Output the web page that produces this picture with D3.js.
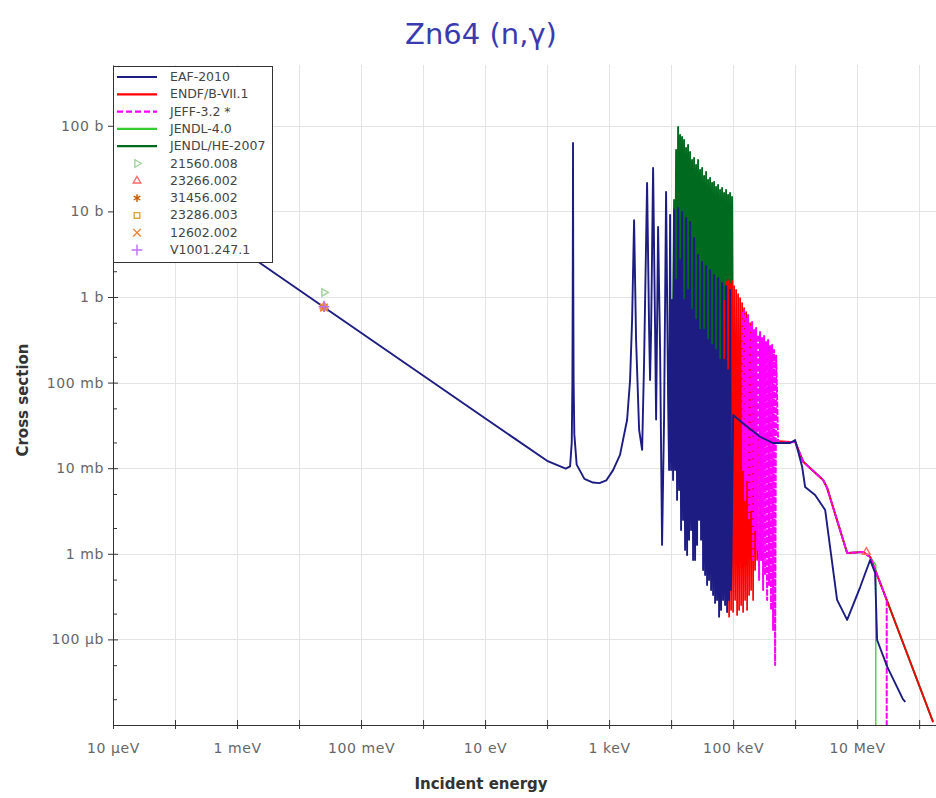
<!DOCTYPE html>
<html>
<head>
<meta charset="utf-8">
<script src="https://cdn.jsdelivr.net/npm/d3@7"></script>
<style>
  body { margin: 0; background: #fff; }
  svg { display: block; font-family: "DejaVu Sans", sans-serif; }
</style>
</head>
<body>
<svg id="chart"></svg>
<script>
// axis ranges (eV, barn)
const energyDomain = [1e-5, 1.87e8];
const xsDomain = [1e-5, 513];

const xTickValues = [1e-5, 1e-4, 1e-3, 1e-2, 1e-1, 1, 10, 100, 1e3, 1e4, 1e5, 1e6, 1e7, 1e8];
const xLabelValues = [1e-5, 1e-3, 1e-1, 10, 1e3, 1e5, 1e7];
const xLabelText = ["10 µeV", "1 meV", "100 meV", "10 eV", "1 keV", "100 keV", "10 MeV"];
const yDecades = [1e-5, 1e-4, 1e-3, 1e-2, 1e-1, 1, 10, 100];
const yLabelValues = [1e-4, 1e-3, 1e-2, 1e-1, 1, 10, 100];
const yLabelText = ["100 µb", "1 mb", "10 mb", "100 mb", "1 b", "10 b", "100 b"];

// evaluated cross sections, [energy eV, sigma b]
const eaf2010 = [
  [1e-5, 38.2], [1e-3, 3.82], [0.0253, 0.76], [1, 0.121], [10, 0.0383], [100, 0.0122],
  [200, 0.0099], [235, 0.0105], [250, 0.02], [256, 0.1], [259, 1], [261, 10], [262, 63],
  [263, 10], [265, 1], [268, 0.1], [275, 0.025], [300, 0.011], [400, 0.0075], [550, 0.0068],
  [700, 0.0067], [900, 0.0072], [1160, 0.0095], [1500, 0.0143], [1950, 0.0366], [2180, 0.107],
  [2350, 0.54], [2530, 7.9], [2725, 0.315], [3050, 0.028], [3410, 0.0164], [3670, 0.18],
  [3810, 0.92], [4100, 21.5], [4420, 0.41], [4580, 0.107], [4760, 0.41], [5125, 32.1],
  [5520, 0.41], [5730, 0.037], [6170, 6.56], [6645, 0.24], [7150, 0.00127], [7700, 0.037],
  [8300, 16.9], [8950, 0.063], [9285, 0.0095],
  [9636, 9.06], [10000, 0.00952], [10380, 0.923], [10770, 0.00727], [11180, 10.4],
  [11600, 0.00952], [12040, 1.58], [12490, 0.00426], [12970, 10.96], [13460, 0.00557],
  [13970, 2.71], [14490, 0.0019], [15040, 9.84], [15610, 0.00249], [16200, 0.923],
  [16810, 0.00111], [17450, 8.4], [18110, 0.000969], [18790, 1.21], [19500, 0.00146],
  [20240, 7.52], [21010, 0.0019], [21800, 0.705], [22630, 0.000846], [23480, 4.89],
  [24370, 0.000846], [25290, 0.539], [26250, 0.00127], [27240, 3.1], [28270, 0.00249],
  [29340, 0.412], [30450, 0.00146], [31620, 2.56], [32820, 0.000647], [34060, 0.412],
  [35350, 0.000565], [36680, 2.3], [38070, 0.000432], [39510, 0.315], [41000, 0.000494],
  [42550, 2.07], [44160, 0.000378], [45830, 0.275], [47560, 0.00033], [49360, 1.81],
  [51230, 0.000267], [53170, 0.24], [55180, 0.000289], [57260, 1.67], [59430, 0.000184],
  [61670, 0.184], [64000, 0.000221], [66420, 1.46], [68930, 0.000289], [71540, 0.184],
  [74240, 0.000252], [77050, 1.34], [79960, 0.000209], [82990, 0.14], [86130, 0.000289],
  [89380, 1.21], [92760, 0.000378],
  [1e5, 0.0418], [1.56e5, 0.032], [2.72e5, 0.0233], [4.41e5, 0.0197], [8.3e5, 0.0197],
  [1.0e6, 0.0213], [1.3e6, 0.0103], [1.45e6, 0.00603], [2.1e6, 0.00487], [3.05e6, 0.00325],
  [4.75e6, 0.000289], [6.9e6, 0.000169], [1.12e7, 0.000409], [1.62e7, 0.000846],
  [1.95e7, 0.000597], [2.1e7, 0.0000985], [3.05e7, 0.000048], [5.5e7, 0.0000199], [6e7, 0.0000186]
];

const endfb71 = [
  [71540, 0.923], [74240, 0.000494], [77050, 1.5], [79960, 0.000289], [82990, 1.58],
  [86130, 0.000184], [89380, 1.42], [92760, 0.000221], [96270, 1.54], [100000, 0.000209],
  [103800, 1.34], [107700, 0.000289], [111800, 1.21], [116000, 0.000193], [120400, 1.08],
  [124900, 0.000221], [129700, 0.973], [134600, 0.000252], [139700, 0.851], [144900, 0.000209],
  [150400, 0.744], [156100, 0.000289], [162000, 0.668], [168100, 0.000221], [174500, 0.568],
  [181100, 0.00033], [187900, 0.497], [195000, 0.000378], [202400, 0.412], [210100, 0.000289],
  [218000, 0.315], [226300, 0.000647], [234800, 0.21], [243700, 0.000846],
  [252900, 0.0233], [4.75e5, 0.0208], [8.3e5, 0.0203], [1.0e6, 0.0203], [1.35e6, 0.0119],
  [2.83e6, 0.00727], [3.28e6, 0.00589], [6.9e6, 0.00102], [1.25e7, 0.00105], [1.62e7, 0.00092],
  [3e7, 0.000289], [1.68e8, 1.08e-5]
];

const jeff32 = [
  [139660, 0.668], [144940, 0.00952], [150420, 0.705], [156110, 0.00426], [162010, 0.568],
  [168130, 0.00727], [174490, 0.616], [181090, 0.00249], [187930, 0.471], [195030, 0.00325],
  [202410, 0.511], [210060, 0.000846], [218010, 0.412], [226250, 0.0019], [234810, 0.434],
  [243690, 0.00111], [252900, 0.36], [262460, 0.000494], [272380, 0.39], [282670, 0.000846],
  [293370, 0.332], [304460, 0.000378], [316230, 0.35], [328180, 0.000565], [340590, 0.298],
  [353460, 0.000289], [366830, 0.315], [380700, 0.000432], [395090, 0.268], [410030, 0.000221],
  [425530, 0.275], [441620, 0.000129], [458310, 0.24], [475640, 0.0000502], [493620, 0.21],
  [531800, 0.0197], [1.0e6, 0.0203], [1.35e6, 0.0119], [2.83e6, 0.00727], [3.28e6, 0.00589],
  [6.9e6, 0.00102], [1.25e7, 0.00105], [1.62e7, 0.00092], [3e7, 0.000289], [3e7, 1e-7]
];

const jendl40 = [
  [1e5, 0.0418], [1.56e5, 0.032], [2.72e5, 0.0233], [4.41e5, 0.0197], [1.0e6, 0.0203],
  [1.35e6, 0.0119], [2.83e6, 0.00727], [3.28e6, 0.00589], [6.9e6, 0.00102], [1.25e7, 0.00105],
  [1.62e7, 0.00092], [2e7, 0.00074], [2e7, 1e-7]
];

const jendlhe2007 = [
  [10380, 0.0366], [11180, 13.6], [11600, 0.412], [12040, 52.1], [12490, 0.184], [12970, 96.8],
  [13460, 0.315], [13970, 78.1], [14490, 0.14], [15040, 74], [15610, 0.24], [16200, 68.3],
  [16810, 0.107], [17450, 55.0], [18110, 0.184], [18790, 59.7], [19500, 0.0819], [20240, 49.4],
  [21010, 0.14], [21800, 39.9], [22630, 0.0626], [23480, 42.1], [24370, 0.107], [25290, 34.9],
  [26250, 0.0626], [27240, 39.9], [28270, 0.0819], [29340, 30.5], [30450, 0.0478], [31620, 32.1],
  [32820, 0.0626], [34060, 25.9], [35350, 0.0478], [36680, 28.9], [38070, 0.0626], [39510, 23.3],
  [41000, 0.0366], [42550, 24.6], [44160, 0.0478], [45830, 21.5], [47560, 0.0366], [49360, 22.1],
  [51230, 0.0478], [53170, 19.3], [55180, 0.0366], [57260, 20.3], [59430, 0.0418], [61670, 17.8],
  [64000, 0.032], [66420, 18.8], [68930, 0.0366], [71540, 16.4], [74240, 0.0279], [77050, 17.8],
  [79960, 0.0366], [82990, 15.6], [86130, 0.0279], [89380, 16.4], [92760, 0.0366], [96270, 14.7],
  [1e5, 0.0418], [1.56e5, 0.032], [2.72e5, 0.0233], [4.41e5, 0.0197], [1.0e6, 0.0203],
  [1.35e6, 0.0119], [2.83e6, 0.00727], [3.28e6, 0.00589], [6.9e6, 0.00102], [1.25e7, 0.00105],
  [1.62e7, 0.00092], [3e7, 0.000289], [1.68e8, 1.08e-5]
];

// EXFOR points, [energy eV, sigma b]
const exp21560 = [[0.0253, 1.13]];
const exp23266 = [[0.0253, 0.78], [1.41e7, 0.00105]];
const exp31456 = [[0.0253, 0.74]];
const exp23286 = [[0.0253, 0.76]];
const exp12602 = [[0.0253, 0.75]];
const expV1001 = [[0.0253, 0.77]];

const evaluations = [
  { name: "EAF-2010", data: eaf2010, color: "#1c1c82", width: 1.9 },
  { name: "ENDF/B-VII.1", data: endfb71, color: "#ff0000", width: 1.7 },
  { name: "JEFF-3.2 *", data: jeff32, color: "#ff00ff", width: 2, dash: "6,1.5" },
  { name: "JENDL-4.0", data: jendl40, color: "#33cc33", width: 1.3 },
  { name: "JENDL/HE-2007", data: jendlhe2007, color: "#006a1e", width: 1.9 }
];
const drawOrder = ["JENDL/HE-2007", "JENDL-4.0", "ENDF/B-VII.1", "JEFF-3.2 *", "EAF-2010"];

const measurements = [
  { name: "21560.008", data: exp21560, color: "#9fd49f", symbol: d3.symbolTriangle2, rotate: 90 },
  { name: "23266.002", data: exp23266, color: "#ff6a6a", symbol: d3.symbolTriangle2, rotate: 0 },
  { name: "31456.002", data: exp31456, color: "#c85a00", symbol: d3.symbolAsterisk, rotate: 0 },
  { name: "23286.003", data: exp23286, color: "#d9a441", symbol: d3.symbolSquare2, rotate: 0 },
  { name: "12602.002", data: exp12602, color: "#f08030", symbol: d3.symbolTimes, rotate: 0 },
  { name: "V1001.247.1", data: expV1001, color: "#c070f0", symbol: d3.symbolPlus, rotate: 0 }
];

const width = 936, height = 798;
const margin = { left: 113, right: 0, top: 65, bottom: 73 };

const svg = d3.select("#chart").attr("width", width).attr("height", height);

const x = d3.scaleLog().domain(energyDomain).range([margin.left, width - margin.right]);
const y = d3.scaleLog().domain(xsDomain).range([height - margin.bottom, margin.top]);

// grid
const grid = svg.append("g").attr("stroke", "#e4e4e4").attr("stroke-width", 1);
grid.selectAll(".gx").data(xTickValues).join("line")
  .attr("x1", d => Math.round(x(d)) + 0.5).attr("x2", d => Math.round(x(d)) + 0.5)
  .attr("y1", margin.top).attr("y2", height - margin.bottom);
grid.selectAll(".gy").data(yDecades).join("line")
  .attr("y1", d => Math.round(y(d)) + 0.5).attr("y2", d => Math.round(y(d)) + 0.5)
  .attr("x1", margin.left).attr("x2", width);

svg.append("clipPath").attr("id", "plot-clip")
  .append("rect")
  .attr("x", margin.left).attr("y", margin.top)
  .attr("width", width - margin.left).attr("height", height - margin.bottom - margin.top);

const plot = svg.append("g").attr("clip-path", "url(#plot-clip)");

const line = d3.line().x(d => x(d[0])).y(d => y(d[1]));

drawOrder.forEach(name => {
  const ev = evaluations.find(e => e.name === name);
  plot.append("path")
    .datum(ev.data)
    .attr("d", line)
    .attr("fill", "none")
    .attr("stroke", ev.color)
    .attr("stroke-width", ev.width)
    .attr("stroke-linejoin", "round")
    .attr("stroke-dasharray", ev.dash || null);
});

measurements.forEach(m => {
  plot.selectAll(null).data(m.data).join("path")
    .attr("d", d3.symbol(m.symbol, 40))
    .attr("transform", d => `translate(${x(d[0])},${y(d[1])}) rotate(${m.rotate})`)
    .attr("fill", "none")
    .attr("stroke", m.color)
    .attr("stroke-width", 1.5);
});

// axes
const xAxis = svg.append("g")
  .attr("transform", `translate(0,${height - margin.bottom})`)
  .call(d3.axisBottom(x)
    .tickValues(xTickValues)
    .tickSize(4)
    .tickSizeOuter(0)
    .tickPadding(14)
    .tickFormat(d => {
      const i = xLabelValues.indexOf(d);
      return i >= 0 ? xLabelText[i] : "";
    }));
xAxis.selectAll(".tick line").attr("y1", -5).attr("stroke", "#333");
xAxis.select(".domain").attr("stroke", "#333");
xAxis.selectAll("text").attr("font-size", 14).attr("fill", "#666")
  .attr("letter-spacing", 0.6)
  .attr("font-family", "DejaVu Sans, sans-serif");

const yMinor = [];
yDecades.forEach(d => { [2, 5].forEach(k => { if (d * k < xsDomain[1]) yMinor.push(d * k); }); });

const yAxis = svg.append("g")
  .attr("transform", `translate(${margin.left},0)`)
  .call(d3.axisLeft(y)
    .tickValues(yLabelValues.concat(yMinor))
    .tickSize(5)
    .tickSizeOuter(0)
    .tickPadding(4)
    .tickFormat(d => {
      const i = yLabelValues.indexOf(d);
      return i >= 0 ? yLabelText[i] : "";
    }));
yAxis.selectAll(".tick line")
  .attr("stroke", "#333")
  .attr("x1", d => yLabelValues.includes(d) ? 5 : 4)
  .attr("x2", d => yLabelValues.includes(d) ? -5 : 0);
yAxis.select(".domain").attr("stroke", "#333");
yAxis.selectAll("text").attr("font-size", 14).attr("fill", "#666")
  .attr("letter-spacing", 0.6)
  .attr("font-family", "DejaVu Sans, sans-serif");

// titles
svg.append("text")
  .attr("x", 481).attr("y", 44)
  .attr("text-anchor", "middle")
  .attr("font-size", 29)
  .attr("fill", "#3a3ab0")
  .text("Zn64 (n,γ)");

svg.append("text")
  .attr("x", 481).attr("y", 789)
  .attr("text-anchor", "middle")
  .attr("font-size", 15)
  .attr("font-weight", "bold")
  .attr("fill", "#333")
  .text("Incident energy");

svg.append("text")
  .attr("transform", "translate(28,400) rotate(-90)")
  .attr("text-anchor", "middle")
  .attr("font-size", 15)
  .attr("font-weight", "bold")
  .attr("fill", "#333")
  .text("Cross section");

// legend
const legend = svg.append("g");
legend.append("rect")
  .attr("x", 113.5).attr("y", 66.5)
  .attr("width", 159).attr("height", 196)
  .attr("fill", "#fff").attr("stroke", "#333");

const rowY = i => 77 + i * 17.3;

evaluations.forEach((ev, i) => {
  legend.append("line")
    .attr("x1", 117).attr("x2", 157)
    .attr("y1", rowY(i)).attr("y2", rowY(i))
    .attr("stroke", ev.color).attr("stroke-width", 2.2)
    .attr("stroke-dasharray", ev.dash ? "6,3" : null);
  legend.append("text")
    .attr("x", 170).attr("y", rowY(i) + 4)
    .attr("font-size", 12.5).attr("fill", "#444")
    .text(ev.name);
});

measurements.forEach((m, j) => {
  const i = j + evaluations.length;
  legend.append("path")
    .attr("d", d3.symbol(m.symbol, 40))
    .attr("transform", `translate(137,${rowY(i)}) rotate(${m.rotate})`)
    .attr("fill", "none").attr("stroke", m.color).attr("stroke-width", 1.4);
  legend.append("text")
    .attr("x", 170).attr("y", rowY(i) + 4)
    .attr("font-size", 12.5).attr("fill", "#444")
    .text(m.name);
});
</script>
</body>
</html>
